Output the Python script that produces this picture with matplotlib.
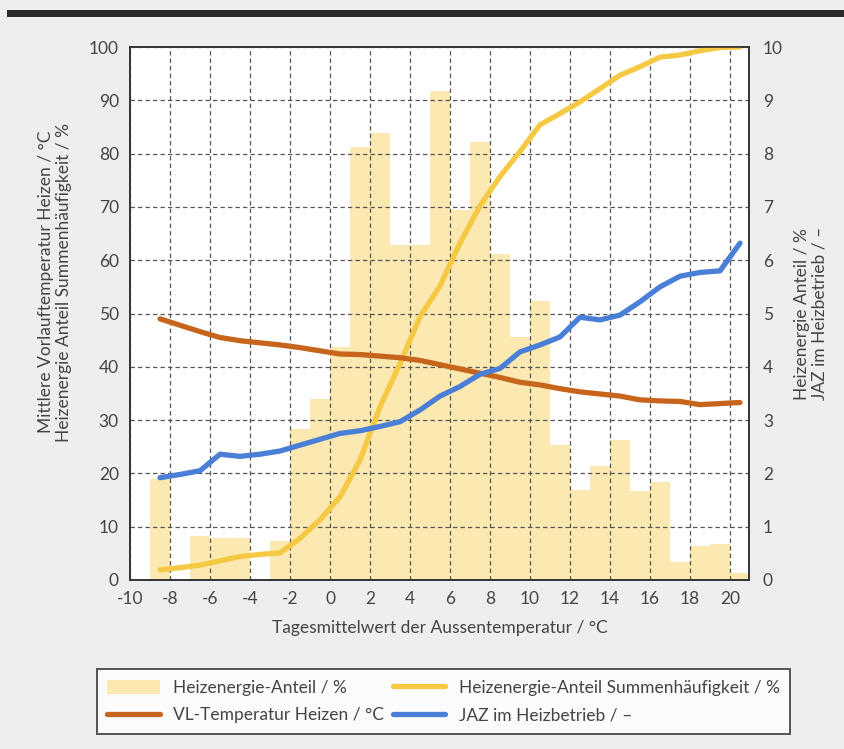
import matplotlib
matplotlib.use("Agg")
import matplotlib.pyplot as plt
from matplotlib.patches import Rectangle

# Temperature bins (left edge, °C) and share of heating energy per bin (%)
bin_left = list(range(-9, 21))
energy_share = [1.90, 0.00, 0.83, 0.79, 0.79, 0.00, 0.74, 2.84, 3.40, 4.38,
                8.12, 8.38, 6.28, 6.28, 9.17, 6.94, 8.21, 6.12, 4.56, 5.24,
                2.54, 1.68, 2.13, 2.63, 1.67, 1.84, 0.33, 0.64, 0.67, 0.14]

# Curves evaluated at bin centres
temp_mid = [t + 0.5 for t in bin_left]
cumulative_share = [1.9, 2.3, 2.8, 3.6, 4.4, 4.8, 5.1, 7.8, 11.3, 15.6,
                    22.5, 32.5, 40.6, 49.4, 55.2, 63.2, 70.2, 75.7, 80.4, 85.4,
                    87.5, 89.7, 92.2, 94.7, 96.3, 98.1, 98.5, 99.3, 99.9, 100.0]
flow_temp = [49.0, 47.8, 46.6, 45.5, 44.9, 44.5, 44.1, 43.6, 43.0, 42.4,
             42.3, 42.0, 41.7, 41.2, 40.4, 39.6, 38.8, 38.0, 37.1, 36.6,
             35.9, 35.3, 34.9, 34.5, 33.8, 33.6, 33.5, 32.9, 33.1, 33.3]
jaz = [1.92, 1.98, 2.05, 2.36, 2.32, 2.36, 2.42, 2.53, 2.64, 2.75,
       2.80, 2.88, 2.97, 3.19, 3.45, 3.63, 3.86, 3.97, 4.28, 4.41,
       4.56, 4.93, 4.88, 4.97, 5.22, 5.50, 5.70, 5.77, 5.80, 6.32]

x_ticks = list(range(-10, 21, 2))
left_ticks = list(range(0, 101, 10))
right_ticks = list(range(0, 11))

BAR_C = "#fce9b1"
YEL_C = "#f5c943"
ORA_C = "#c8651c"
BLU_C = "#4a7fd8"
TXT_C = "#444444"
GRID_C = "#555555"

plt.rcParams["font.family"] = ["Lato", "DejaVu Sans"]
plt.rcParams["font.size"] = 12.5
plt.rcParams["text.color"] = TXT_C
plt.rcParams["axes.unicode_minus"] = False

W, H = 844, 749
fig = plt.figure(figsize=(W / 100, H / 100), dpi=100)
fig.patch.set_facecolor("#eceef0")

# dark band across the top
fig.add_artist(Rectangle((7 / W, 1 - 17 / H), 1, 7 / H,
                         transform=fig.transFigure, color="#2a2a2a", lw=0))

ax_l, ax_r, ax_b, ax_t = 130, 749, 580, 47
ax = fig.add_axes([ax_l / W, 1 - ax_b / H, (ax_r - ax_l) / W, (ax_b - ax_t) / H])

# right-hand scale: bars (drawn underneath everything)
axr = ax.twinx()
ax.set_zorder(axr.get_zorder() + 1)
ax.patch.set_visible(False)
axr.patch.set_visible(True)
axr.patch.set_facecolor("white")

bars = axr.bar(bin_left, energy_share, width=1.0, align="edge",
               color=BAR_C, linewidth=0, label="Heizenergie-Anteil / %")
axr.set_ylim(0, 10)
axr.set_yticks(right_ticks)

# left-hand scale: cumulative share and flow temperature
l_cum, = ax.plot(temp_mid, cumulative_share, color=YEL_C, lw=3.8,
                 solid_capstyle="round", solid_joinstyle="round",
                 label="Heizenergie-Anteil Summenhäufigkeit / %")
l_vl, = ax.plot(temp_mid, flow_temp, color=ORA_C, lw=3.8,
                solid_capstyle="round", solid_joinstyle="round",
                label="VL-Temperatur Heizen / °C")
ax.set_ylim(0, 100)
ax.set_xlim(-10, 20.95)
ax.set_xticks(x_ticks)
ax.set_yticks(left_ticks)
ax.grid(True, color=GRID_C, lw=0.9, linestyle=(0, (3.5, 2.5)))

# JAZ on the right-hand scale, drawn on top
axj = ax.twinx()
axj.set_zorder(ax.get_zorder() + 1)
axj.patch.set_visible(False)
l_jaz, = axj.plot(temp_mid, jaz, color=BLU_C, lw=3.8,
                  solid_capstyle="round", solid_joinstyle="round",
                  label="JAZ im Heizbetrieb / –")
axj.set_ylim(0, 10)
axj.axis("off")

for a in (ax, axr):
    for s in a.spines.values():
        s.set_color("#333333")
        s.set_linewidth(1.2)
ax.tick_params(axis="both", length=0, colors=TXT_C, labelsize=12.5)
ax.tick_params(axis="x", pad=8)
ax.tick_params(axis="y", pad=8)
axr.tick_params(axis="y", length=0, colors=TXT_C, labelsize=12.5, pad=10)

ax.set_xlabel("Tagesmittelwert der Aussentemperatur / °C", fontsize=12.5,
              color=TXT_C, labelpad=9)

fig.text(55 / W, 1 - 282 / H,
         "Mittlere Vorlauftemperatur Heizen / °C\nHeizenergie Anteil Summenhäufigkeit / %",
         rotation=90, ha="center", va="center", multialignment="center",
         fontsize=12.5, linespacing=1.15, color=TXT_C)
fig.text(811 / W, 1 - 400 / H,
         "Heizenergie Anteil / %\nJAZ im Heizbetrieb / –",
         rotation=90, ha="center", va="bottom", multialignment="left",
         fontsize=12.5, linespacing=1.15, color=TXT_C)

leg = fig.legend([bars, l_vl, l_cum, l_jaz],
                 [bars.get_label(), l_vl.get_label(), l_cum.get_label(), l_jaz.get_label()],
                 loc="center", ncol=2, mode="expand",
                 bbox_to_anchor=(97 / W, 1 - 735 / H, 693 / W, 67 / H),
                 bbox_transform=fig.transFigure, borderaxespad=0,
                 fancybox=False, frameon=True, handlelength=3.0, handleheight=0.9,
                 fontsize=12.5, labelspacing=0.65, borderpad=0.6, handletextpad=0.8)
leg.get_frame().set_edgecolor("#2b2b2b")
leg.get_frame().set_linewidth(1.4)
leg.get_frame().set_facecolor("white")

fig.savefig("out.png", dpi=100, facecolor=fig.get_facecolor())
